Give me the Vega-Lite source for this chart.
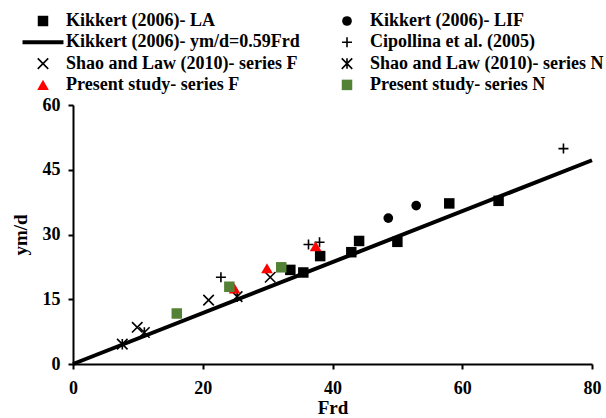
{
  "$schema": "https://vega.github.io/schema/vega-lite/v6.json",
  "width": 519,
  "height": 259,
  "autosize": {"type": "none"},
  "padding": {"left": 73, "top": 105, "right": 14, "bottom": 54},
  "background": "white",
  "config": {
    "view": {"stroke": null},
    "font": "Liberation Serif",
    "axis": {
      "grid": false,
      "domainColor": "black",
      "domainWidth": 2,
      "tickColor": "black",
      "tickWidth": 2,
      "tickSize": 5,
      "labelFont": "Liberation Serif",
      "labelFontSize": 18,
      "labelFontWeight": "bold",
      "labelColor": "black",
      "labelPadding": 8,
      "labelFlush": false,
      "titleFont": "Liberation Serif",
      "titleFontSize": 19,
      "titleFontWeight": "bold",
      "titleColor": "black"
    },
    "legend": {
      "orient": "none",
      "direction": "horizontal",
      "legendX": -39,
      "legendY": -93,
      "columns": 2,
      "columnPadding": 38,
      "rowPadding": 3.3,
      "labelFont": "Liberation Serif",
      "labelFontSize": 18,
      "labelFontWeight": "bold",
      "labelColor": "black",
      "labelOffset": 14,
      "labelLimit": 0,
      "padding": 0,
      "symbolOpacity": 1
    }
  },
  "datasets": {
    "fit": [
      {"series": "Kikkert (2006)- ym/d=0.59Frd", "Frd": 0, "ymd": 0},
      {"series": "Kikkert (2006)- ym/d=0.59Frd", "Frd": 80, "ymd": 47.2}
    ],
    "pts": [
      {"series": "Kikkert (2006)- LA", "Frd": 33.5, "ymd": 21.8},
      {"series": "Kikkert (2006)- LA", "Frd": 35.5, "ymd": 21.2},
      {"series": "Kikkert (2006)- LA", "Frd": 38.1, "ymd": 25.0},
      {"series": "Kikkert (2006)- LA", "Frd": 42.9, "ymd": 25.9},
      {"series": "Kikkert (2006)- LA", "Frd": 44.1, "ymd": 28.5},
      {"series": "Kikkert (2006)- LA", "Frd": 50.0, "ymd": 28.3},
      {"series": "Kikkert (2006)- LA", "Frd": 58.0, "ymd": 37.2},
      {"series": "Kikkert (2006)- LA", "Frd": 65.6, "ymd": 37.8},
      {"series": "Kikkert (2006)- LIF", "Frd": 48.6, "ymd": 33.8},
      {"series": "Kikkert (2006)- LIF", "Frd": 52.9, "ymd": 36.7},
      {"series": "Cipollina et al. (2005)", "Frd": 22.8, "ymd": 20.1},
      {"series": "Cipollina et al. (2005)", "Frd": 36.3, "ymd": 27.7},
      {"series": "Cipollina et al. (2005)", "Frd": 38.0, "ymd": 28.2},
      {"series": "Cipollina et al. (2005)", "Frd": 75.6, "ymd": 49.9},
      {"series": "Shao and Law (2010)- series F", "Frd": 9.9, "ymd": 8.5},
      {"series": "Shao and Law (2010)- series F", "Frd": 20.9, "ymd": 14.8},
      {"series": "Shao and Law (2010)- series F", "Frd": 30.4, "ymd": 20.1},
      {"series": "Shao and Law (2010)- series N", "Frd": 7.6, "ymd": 4.6},
      {"series": "Shao and Law (2010)- series N", "Frd": 11.0, "ymd": 7.3},
      {"series": "Shao and Law (2010)- series N", "Frd": 25.3, "ymd": 15.6},
      {"series": "Present study- series F", "Frd": 24.9, "ymd": 17.5},
      {"series": "Present study- series F", "Frd": 29.9, "ymd": 22.2},
      {"series": "Present study- series F", "Frd": 37.4, "ymd": 27.3},
      {"series": "Present study- series N", "Frd": 16.0, "ymd": 11.7},
      {"series": "Present study- series N", "Frd": 24.1, "ymd": 17.9},
      {"series": "Present study- series N", "Frd": 32.1, "ymd": 22.4}
    ]
  },
  "layer": [
    {
      "data": {"name": "fit"},
      "mark": {"type": "line", "strokeCap": "butt", "strokeWidth": 4, "color": "black"},
      "encoding": {
        "x": {"field": "Frd", "type": "quantitative", "scale": {"domain": [0, 80], "nice": false}, "axis": {"values": [0, 20, 40, 60, 80], "title": "Frd", "titlePadding": 1, "labelPadding": 10}},
        "y": {"field": "ymd", "type": "quantitative", "scale": {"domain": [0, 60], "nice": false}, "axis": {"values": [0, 15, 30, 45, 60], "title": "ym/d", "titlePadding": 12}}
      }
    },
    {
      "data": {"name": "pts"},
      "mark": {"type": "point", "opacity": 1},
      "encoding": {
        "x": {"field": "Frd", "type": "quantitative"},
        "y": {"field": "ymd", "type": "quantitative"},
        "shape": {"field": "series", "type": "nominal",
          "legend": {"title": null, "encode": {"symbols": {"update": {
            "fill": {"scale": "fill", "field": "value"},
            "stroke": {"scale": "stroke", "field": "value"},
            "strokeWidth": {"scale": "strokeWidth", "field": "value"},
            "size": {"scale": "size", "field": "value"},
            "opacity": {"value": 1}
          }}}},
          "scale": {"domain": ["Kikkert (2006)- LA", "Kikkert (2006)- LIF", "Kikkert (2006)- ym/d=0.59Frd", "Cipollina et al. (2005)", "Shao and Law (2010)- series F", "Shao and Law (2010)- series N", "Present study- series F", "Present study- series N"],
                    "range": ["square", "circle", "M-3.15,0H3.15", "M-1,0H1M0,-1V1", "M-1,-1L1,1M-1,1L1,-1", "M-1,-1L1,1M-1,1L1,-1M0,-1L0,1", "triangle-up", "square"]}},
        "fill": {"field": "series", "type": "nominal", "legend": {"title": null},
          "scale": {"domain": ["Kikkert (2006)- LA", "Kikkert (2006)- LIF", "Kikkert (2006)- ym/d=0.59Frd", "Cipollina et al. (2005)", "Shao and Law (2010)- series F", "Shao and Law (2010)- series N", "Present study- series F", "Present study- series N"],
                    "range": ["black", "black", "transparent", "transparent", "transparent", "transparent", "#ff0000", "#538135"]}},
        "stroke": {"field": "series", "type": "nominal", "legend": {"title": null},
          "scale": {"domain": ["Kikkert (2006)- LA", "Kikkert (2006)- LIF", "Kikkert (2006)- ym/d=0.59Frd", "Cipollina et al. (2005)", "Shao and Law (2010)- series F", "Shao and Law (2010)- series N", "Present study- series F", "Present study- series N"],
                    "range": ["black", "black", "black", "black", "black", "black", "#ff0000", "#538135"]}},
        "strokeWidth": {"field": "series", "type": "nominal", "legend": {"title": null},
          "scale": {"type": "ordinal", "domain": ["Kikkert (2006)- LA", "Kikkert (2006)- LIF", "Kikkert (2006)- ym/d=0.59Frd", "Cipollina et al. (2005)", "Shao and Law (2010)- series F", "Shao and Law (2010)- series N", "Present study- series F", "Present study- series N"],
                    "range": [0, 0, 4, 1.6, 1.6, 1.6, 0, 0]}},
        "size": {"field": "series", "type": "nominal", "legend": {"title": null},
          "scale": {"type": "ordinal", "domain": ["Kikkert (2006)- LA", "Kikkert (2006)- LIF", "Kikkert (2006)- ym/d=0.59Frd", "Cipollina et al. (2005)", "Shao and Law (2010)- series F", "Shao and Law (2010)- series N", "Present study- series F", "Present study- series N"],
                    "range": [110, 95, 169, 100, 110, 110, 135, 110]}}
      }
    }
  ]
}
